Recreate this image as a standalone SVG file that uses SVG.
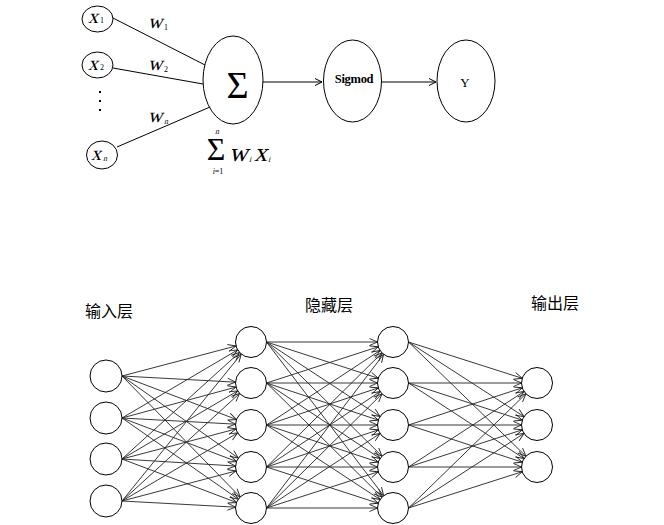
<svg xmlns="http://www.w3.org/2000/svg" width="664" height="525" viewBox="0 0 664 525">
<style>
.nd{fill:#fff;stroke:#000;stroke-width:1}
.ln{stroke:#000;stroke-width:1;fill:none}
.nl{stroke:#222;stroke-width:0.9;fill:none;marker-end:url(#na)}
.mi{font-family:"Liberation Serif","Times New Roman",serif;font-style:normal;fill:#000}
.sb{font-family:"Liberation Serif","Times New Roman",serif;font-size:8px;fill:#000}
.cj{font-family:"Liberation Sans","Noto Sans CJK SC",sans-serif;font-size:16px;fill:#000}
</style>
<defs>
<marker id="ta" markerUnits="userSpaceOnUse" markerWidth="10" markerHeight="10" refX="0" refY="0" orient="auto" overflow="visible">
<path d="M-7,-3.5 L0,0 L-7,3.5" fill="none" stroke="#000" stroke-width="1"/>
</marker>
<marker id="na" markerUnits="userSpaceOnUse" markerWidth="10" markerHeight="10" refX="15.5" refY="0" orient="auto" overflow="visible">
<path d="M-8,-3.5 L0,0 L-8,3.5" fill="none" stroke="#222" stroke-width="0.9"/>
</marker>
</defs>

<g id="connectors">
<line class="ln" x1="113" y1="18" x2="205" y2="65"/>
<line class="ln" x1="113" y1="68" x2="203" y2="84"/>
<line class="ln" x1="117" y1="147" x2="210" y2="107"/>
<line class="ln" x1="263" y1="82" x2="322" y2="82" marker-end="url(#ta)"/>
<line class="ln" x1="382" y1="82" x2="436" y2="82" marker-end="url(#ta)"/>

<path class="nl" d="M122,376L251,342"/><path class="nl" d="M122,376L251,383"/><path class="nl" d="M122,376L251,425"/><path class="nl" d="M122,376L251,467"/><path class="nl" d="M122,376L251,508"/>
<path class="nl" d="M122,418L251,342"/><path class="nl" d="M122,418L251,383"/><path class="nl" d="M122,418L251,425"/><path class="nl" d="M122,418L251,467"/><path class="nl" d="M122,418L251,508"/>
<path class="nl" d="M122,459L251,342"/><path class="nl" d="M122,459L251,383"/><path class="nl" d="M122,459L251,425"/><path class="nl" d="M122,459L251,467"/><path class="nl" d="M122,459L251,508"/>
<path class="nl" d="M122,501L251,342"/><path class="nl" d="M122,501L251,383"/><path class="nl" d="M122,501L251,425"/><path class="nl" d="M122,501L251,467"/><path class="nl" d="M122,501L251,508"/>

<path class="nl" d="M266.5,342L393,342"/><path class="nl" d="M266.5,342L393,383"/><path class="nl" d="M266.5,342L393,425"/><path class="nl" d="M266.5,342L393,467"/><path class="nl" d="M266.5,342L393,508"/>
<path class="nl" d="M266.5,383L393,342"/><path class="nl" d="M266.5,383L393,383"/><path class="nl" d="M266.5,383L393,425"/><path class="nl" d="M266.5,383L393,467"/><path class="nl" d="M266.5,383L393,508"/>
<path class="nl" d="M266.5,425L393,342"/><path class="nl" d="M266.5,425L393,383"/><path class="nl" d="M266.5,425L393,425"/><path class="nl" d="M266.5,425L393,467"/><path class="nl" d="M266.5,425L393,508"/>
<path class="nl" d="M266.5,467L393,342"/><path class="nl" d="M266.5,467L393,383"/><path class="nl" d="M266.5,467L393,425"/><path class="nl" d="M266.5,467L393,467"/><path class="nl" d="M266.5,467L393,508"/>
<path class="nl" d="M266.5,508L393,342"/><path class="nl" d="M266.5,508L393,383"/><path class="nl" d="M266.5,508L393,425"/><path class="nl" d="M266.5,508L393,467"/><path class="nl" d="M266.5,508L393,508"/>

<path class="nl" d="M408.5,342L537,383"/><path class="nl" d="M408.5,342L537,425"/><path class="nl" d="M408.5,342L537,467"/>
<path class="nl" d="M408.5,383L537,383"/><path class="nl" d="M408.5,383L537,425"/><path class="nl" d="M408.5,383L537,467"/>
<path class="nl" d="M408.5,425L537,383"/><path class="nl" d="M408.5,425L537,425"/><path class="nl" d="M408.5,425L537,467"/>
<path class="nl" d="M408.5,467L537,383"/><path class="nl" d="M408.5,467L537,425"/><path class="nl" d="M408.5,467L537,467"/>
<path class="nl" d="M408.5,508L537,383"/><path class="nl" d="M408.5,508L537,425"/><path class="nl" d="M408.5,508L537,467"/>
</g>

<g id="x1">
<ellipse class="nd" cx="97.5" cy="19" rx="15.5" ry="13"/>
<text class="mi" transform="translate(88,23) skewX(-14)" font-size="20">x</text><text class="sb" x="100" y="23">1</text>
</g>
<g id="x2">
<ellipse class="nd" cx="97.5" cy="65" rx="15.5" ry="13"/>
<text class="mi" transform="translate(88,70) skewX(-14)" font-size="20">x</text><text class="sb" x="100" y="70">2</text>
</g>
<g id="dots">
<rect x="99" y="91" width="2" height="2" fill="#000"/>
<rect x="99" y="100" width="2" height="2" fill="#000"/>
<rect x="99" y="109" width="2" height="2" fill="#000"/>
</g>
<g id="xn">
<ellipse class="nd" cx="102" cy="155" rx="15.5" ry="14"/>
<text class="mi" transform="translate(91,160) skewX(-14)" font-size="20">x</text><text class="sb" transform="translate(103,161) skewX(-14)">n</text>
</g>
<g id="weights">
<text class="mi" transform="translate(148,28) skewX(-14)" font-size="20">w</text><text class="sb" x="164" y="30">1</text>
<text class="mi" transform="translate(148,70) skewX(-14)" font-size="20">w</text><text class="sb" x="164" y="72">2</text>
<text class="mi" transform="translate(148,122) skewX(-14)" font-size="20">w</text><text class="sb" transform="translate(164,124) skewX(-14)">n</text>
</g>
<g id="sum">
<ellipse class="nd" cx="233" cy="80" rx="30" ry="44"/>
<text x="237.5" y="98" font-family="'Liberation Serif','Times New Roman',serif" font-size="38" text-anchor="middle">Σ</text>
</g>
<g id="formula">
<text x="216" y="160" font-family="'Liberation Serif','Times New Roman',serif" font-size="32" text-anchor="middle">Σ</text>
<text class="sb" transform="translate(217,134) skewX(-14)" text-anchor="middle">n</text>
<text class="sb" x="218" y="174" text-anchor="middle"><tspan font-style="italic">i</tspan>=1</text>
<text class="mi" transform="translate(229,161) skewX(-14)" font-size="26">w</text><text class="sb" transform="translate(249,162) skewX(-14)">i</text>
<text class="mi" transform="translate(254,161) skewX(-14)" font-size="26">x</text><text class="sb" transform="translate(268,162) skewX(-14)">i</text>
</g>
<g id="sigmod">
<ellipse class="nd" cx="352.5" cy="81" rx="29" ry="41"/>
<text x="354" y="83" font-family="'Liberation Serif','Times New Roman',serif" font-size="12.5" font-weight="bold" text-anchor="middle" letter-spacing="-0.3">Sigmod</text>
</g>
<g id="y">
<ellipse class="nd" cx="466" cy="81" rx="29" ry="41"/>
<text x="465" y="87" font-family="'Liberation Serif','Times New Roman',serif" font-size="13" text-anchor="middle">Y</text>
</g>

<g id="labels">
<text class="cj" x="85" y="317">输入层</text>
<text class="cj" x="305" y="311">隐藏层</text>
<text class="cj" x="531" y="309">输出层</text>
</g>

<g id="input-layer">
<circle class="nd" cx="106" cy="376" r="16"/>
<circle class="nd" cx="106" cy="418" r="16"/>
<circle class="nd" cx="106" cy="459" r="16"/>
<circle class="nd" cx="106" cy="501" r="16"/>
</g>
<g id="hidden-layer-1">
<circle class="nd" cx="251" cy="342" r="15.5"/>
<circle class="nd" cx="251" cy="383" r="15.5"/>
<circle class="nd" cx="251" cy="425" r="15.5"/>
<circle class="nd" cx="251" cy="467" r="15.5"/>
<circle class="nd" cx="251" cy="508" r="15.5"/>
</g>
<g id="hidden-layer-2">
<circle class="nd" cx="393" cy="342" r="15.5"/>
<circle class="nd" cx="393" cy="383" r="15.5"/>
<circle class="nd" cx="393" cy="425" r="15.5"/>
<circle class="nd" cx="393" cy="467" r="15.5"/>
<circle class="nd" cx="393" cy="508" r="15.5"/>
</g>
<g id="output-layer">
<circle class="nd" cx="537" cy="383" r="15.5"/>
<circle class="nd" cx="537" cy="425" r="15.5"/>
<circle class="nd" cx="537" cy="467" r="15.5"/>
</g>
</svg>
